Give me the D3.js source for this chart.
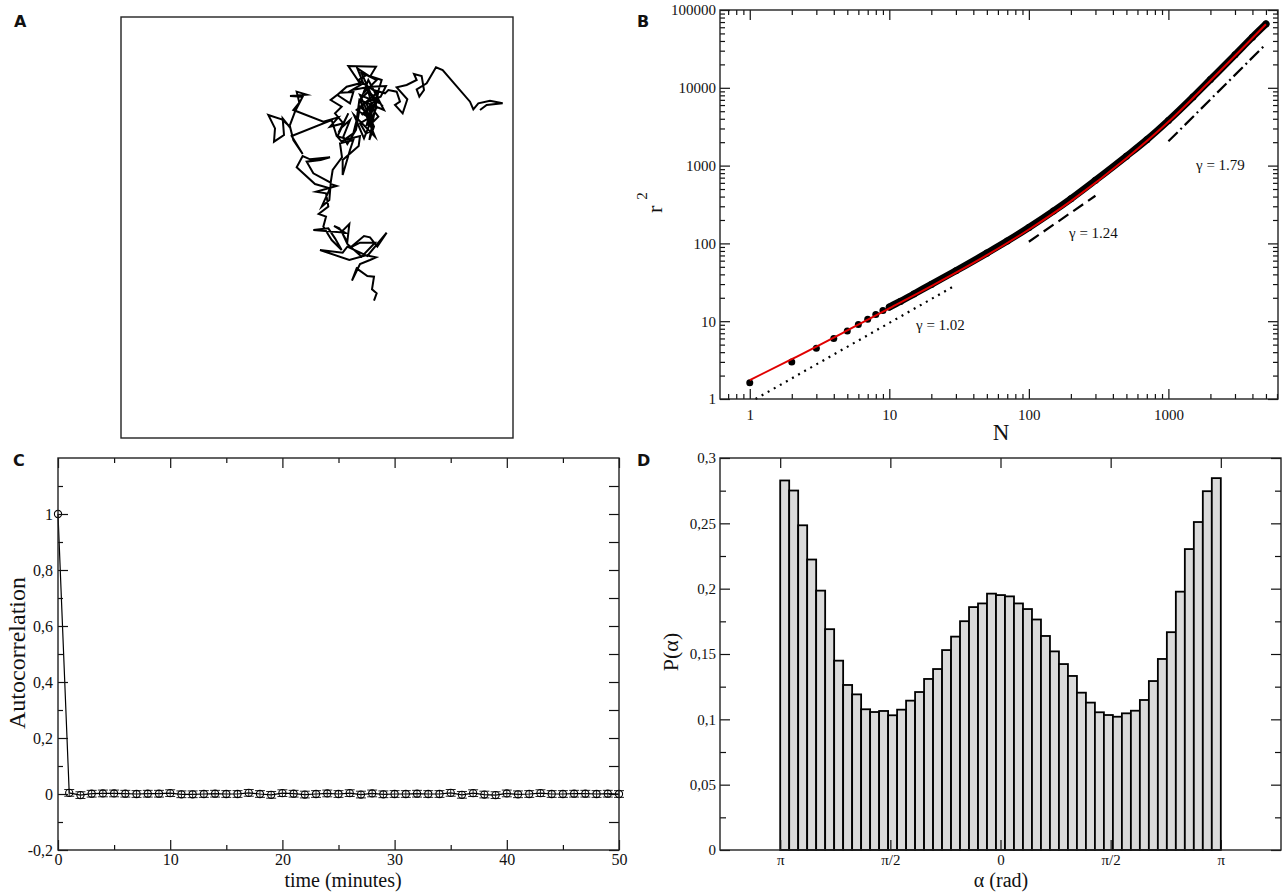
<!DOCTYPE html>
<html>
<head>
<meta charset="utf-8">
<script src="https://cdn.jsdelivr.net/npm/d3@7"></script>
<style>
  body { margin: 0; background: #fff; }
  svg { display: block; }
  text { font-family: "Liberation Serif", "Times New Roman", serif; fill: #111; }
  .letter { font-family: "DejaVu Sans", sans-serif; font-weight: bold; font-size: 16px; }
</style>
</head>
<body>
<svg id="fig" width="1284" height="892"></svg>
<script>
// ---------- Panel A: cell track (image pixel coordinates, y pointing down) ----------
const trackXY = [
  [342,722],[350,700],[336,688],[342,650],[322,648],[290,625],[276,662],[300,612],[330,600],[348,592],
  [318,586],[268,600],[180,570],[248,578],[262,560],[322,588],[380,518],[352,560],[330,532],[312,528],
  [272,562],[300,548],[345,548],[305,590],[262,552],[245,515],[268,492],[262,545],[238,505],[222,498],
  [255,518],[160,510],[205,505],[225,535],[245,570],[215,540],[190,500],[198,470],[176,462],[205,440],
  [198,400],[168,395],[230,378],[212,372],[208,420],[185,440],[210,385],[165,372],[110,322],[128,288],
  [150,298],[210,292],[182,300],[140,305],[160,340],[212,368],[218,330],[246,292],[240,250],[280,240],
  [270,270],[248,345],[248,300],[296,258],[300,228],[262,238],[230,228],[215,180],[95,228],[128,282],
  [100,240],[90,200],[65,178],[25,165],[45,205],[42,245],[72,225],[68,175],[88,200],[105,155],
  [128,110],[90,108],[140,104],[110,95],[118,128],[100,150],[190,185],[235,172],[210,200],[250,190],
  [225,160],[245,140],[212,120],[240,98],[280,96],[270,130],[232,105],[260,80],[300,70],[265,18],
  [348,20],[330,50],[292,25],[310,70],[276,90],[330,80],[378,78],[362,110],[318,128],[336,168],
  [300,190],[318,220],[338,210],[322,160],[300,140],[288,210],[262,252],[250,230],[270,180],[242,205],
  [265,160],[232,230],[245,245],[280,220],[290,180],[298,120],[325,95],[340,150],[355,170],[340,185],
  [320,195],[335,140],[305,165],[345,120],[318,85],[360,130],[300,105],[342,200],[328,240],[355,95],
  [290,150],[330,175],[365,60],[305,40],[350,140],[312,235],[282,165],[345,230],[300,120],[372,150],
  [325,60],[310,100],[350,60],[320,45],[295,60],[340,90],[375,100],[385,90],[410,95],[420,125],
  [405,135],[428,160],[442,118],[410,82],[440,75],[470,60],[462,42],[485,48],[492,90],[478,110],
  [470,88],[500,70],[528,22],[548,30],[630,125],[640,148],[655,130],[690,122],[728,130],[680,135],[660,150]
];

// ---------- Panel B: mean squared displacement vs number of steps ----------
const msdN  = [1, 2, 3, 4, 5, 6, 7, 8, 9, 10, 12, 15, 20, 30, 50, 70, 100, 150, 200, 300, 500, 700, 1000, 1500, 2000, 3000, 4000, 5000];
const msdR2 = [1.62, 3.0, 4.5, 6.0, 7.5, 9.1, 10.6, 12.2, 13.7, 15.2, 17.95, 22.4, 29.7, 44.5, 75, 107, 160, 260, 374, 647, 1320, 2150, 3800, 7630, 12780, 26500, 44800, 66000];
const fitN  = [1, 2, 5, 10, 20, 50, 100, 200, 500, 1000, 2000, 5000];
const fitR2 = [1.75, 3.25, 7.6, 14.6, 28.2, 70.5, 151, 350, 1240, 3650, 12400, 65500];
const slopeGamma  = [1.02, 1.24, 1.79];
const slopeFromN  = [1.1, 100, 1000];
const slopeToN    = [30, 300, 5000];
const slopeFromR2 = [1.0, 105, 2050];
const bXTicks = [1, 10, 100, 1000];
const bXTickLabels = ["1", "10", "100", "1000"];
const bYTicks = [1, 10, 100, 1000, 10000, 100000];
const bYTickLabels = ["1", "10", "100", "1000", "10000", "100000"];

// ---------- Panel C: velocity autocorrelation ----------
const acfValues = [1, 0.004, -0.004, 0.001, 0.002, 0.002, 0.001, 0.000, 0.001, 0.001,
  0.003, -0.001, -0.001, 0.000, 0.001, 0.000, 0.000, 0.004, 0.000, -0.003,
  0.003, 0.001, -0.002, 0.000, 0.002, 0.000, 0.003, -0.002, 0.002, -0.001,
  0.000, 0.000, 0.001, 0.000, 0.000, 0.004, -0.003, 0.003, -0.002, -0.004,
  0.002, -0.001, 0.000, 0.003, 0.000, 0.000, 0.001, 0.001, 0.000, 0.001, 0.000];
const acfErrorHalf = 0.012;
const cXTicks = [0, 10, 20, 30, 40, 50];
const cXTickLabels = ["0", "10", "20", "30", "40", "50"];
const cYTicks = [-0.2, 0, 0.2, 0.4, 0.6, 0.8, 1];
const cYTickLabels = ["-0,2", "0", "0,2", "0,4", "0,6", "0,8", "1"];

// ---------- Panel D: turning-angle distribution (49 bins over [-π, π]) ----------
const pAlpha = [0.2828, 0.2751, 0.2485, 0.2223, 0.1985, 0.169, 0.1449, 0.1263, 0.1191, 0.1077,
  0.1056, 0.1064, 0.1031, 0.1074, 0.1143, 0.1209, 0.1309, 0.1385, 0.153, 0.1633,
  0.1751, 0.1859, 0.1887, 0.1962, 0.1951, 0.1941, 0.1887, 0.1844, 0.1764, 0.1638,
  0.152, 0.1423, 0.1332, 0.1204, 0.1128, 0.1054, 0.1033, 0.102, 0.1046, 0.1066,
  0.1148, 0.1293, 0.1462, 0.1667, 0.1977, 0.2303, 0.251, 0.2746, 0.2846];
const dXTicks = [-Math.PI, -Math.PI / 2, 0, Math.PI / 2, Math.PI];
const dXTickLabels = ["π", "π/2", "0", "π/2", "π"];
const dYTicks = [0, 0.05, 0.1, 0.15, 0.2, 0.25, 0.3];
const dYTickLabels = ["0", "0,05", "0,1", "0,15", "0,2", "0,25", "0,3"];

// ---------- helpers ----------
const svg = d3.select("#fig");
const INK = "#111";

function ticks(g, orient, scale, pos, values, size, labels, pad, fontSize) {
  const make = { left: d3.axisLeft, right: d3.axisRight, top: d3.axisTop, bottom: d3.axisBottom }[orient];
  const gen = make(scale).tickValues(values).tickSize(size).tickPadding(pad || 3)
    .tickFormat(labels ? (d, i) => labels[i] : () => "");
  const sel = g.append("g")
    .attr("transform", (orient === "left" || orient === "right") ? `translate(${pos},0)` : `translate(0,${pos})`)
    .call(gen);
  sel.select(".domain").remove();
  sel.attr("font-family", null).attr("font-size", fontSize || 12).attr("color", INK);
  sel.selectAll("line").attr("stroke-width", 1.2);
  return sel;
}

function frame(g, x0, y0, x1, y1) {
  g.append("rect").attr("x", x0).attr("y", y0).attr("width", x1 - x0).attr("height", y1 - y0)
    .attr("fill", "none").attr("stroke", "#222").attr("stroke-width", 1.4);
}

function letter(x, y, s) {
  svg.append("text").attr("class", "letter").attr("x", x).attr("y", y).text(s);
}

// ================= Panel A =================
{
  const g = svg.append("g");
  const x = d3.scaleLinear().domain([-417, 759]).range([121, 513]);
  const y = d3.scaleLinear().domain([-129, 1134]).range([17, 438]);
  g.append("path").datum(trackXY)
    .attr("d", d3.line().x(d => x(d[0])).y(d => y(d[1])))
    .attr("fill", "none").attr("stroke", "#000").attr("stroke-width", 2)
    .attr("stroke-linejoin", "miter").attr("stroke-miterlimit", 6);
  frame(g, 121, 17, 513, 438);
  letter(14, 27, "A");
}

// ================= Panel B =================
{
  const g = svg.append("g");
  const L = 720, R = 1278, T = 10, B = 399;
  const x = d3.scaleLog().domain([0.612, 6100]).range([L, R]);
  const y = d3.scaleLog().domain([1, 1e5]).range([B, T]);

  const minorX = [];
  [0.1, 1, 10, 100, 1000].forEach(p => { for (let k = 2; k <= 9; k++) { const v = k * p; if (v > 0.62 && v < 6100) minorX.push(v); } });
  const minorY = [];
  [1, 10, 100, 1000, 10000].forEach(p => { for (let k = 2; k <= 9; k++) minorY.push(k * p); });

  // power-law guide lines
  const guideDash = ["2,5", "12,6", "13,4,2,4"];
  slopeGamma.forEach((gam, i) => {
    const r1 = slopeFromR2[i] * Math.pow(slopeToN[i] / slopeFromN[i], gam);
    g.append("line")
      .attr("x1", x(slopeFromN[i])).attr("y1", y(slopeFromR2[i]))
      .attr("x2", x(slopeToN[i])).attr("y2", y(r1))
      .attr("stroke", "#000").attr("stroke-width", 2.2)
      .attr("stroke-dasharray", guideDash[i]);
  });

  // measured points: dense band plus individual markers
  const pts = msdN.map((n, i) => [n, msdR2[i]]);
  g.append("path").datum(pts.filter(d => d[0] >= 10))
    .attr("d", d3.line().x(d => x(d[0])).y(d => y(d[1])).curve(d3.curveMonotoneX))
    .attr("fill", "none").attr("stroke", "#000").attr("stroke-width", 7).attr("stroke-linecap", "round");
  g.selectAll("circle.msd").data(pts).enter().append("circle").attr("class", "msd")
    .attr("cx", d => x(d[0])).attr("cy", d => y(d[1])).attr("r", 3.5).attr("fill", "#000");

  // fitted curve
  g.append("path").datum(fitN.map((n, i) => [n, fitR2[i]]))
    .attr("d", d3.line().x(d => x(d[0])).y(d => y(d[1])).curve(d3.curveMonotoneX))
    .attr("fill", "none").attr("stroke", "#e00000").attr("stroke-width", 2);

  // gamma labels
  const gl = [[916, 330], [1069, 238], [1196, 170]];
  slopeGamma.forEach((gam, i) => {
    g.append("text").attr("x", gl[i][0]).attr("y", gl[i][1]).attr("font-size", 15)
      .text("γ = " + gam.toFixed(2));
  });

  ticks(g, "left", y, L, bYTicks, -10, bYTickLabels, 4, 15);
  ticks(g, "left", y, L, minorY, -5);
  ticks(g, "right", y, R, bYTicks, -10);
  ticks(g, "right", y, R, minorY, -5);
  ticks(g, "bottom", x, B, bXTicks, -10, bXTickLabels, 10, 15);
  ticks(g, "bottom", x, B, minorX, -5);
  ticks(g, "top", x, T, bXTicks, -10);
  ticks(g, "top", x, T, minorX, -5);
  frame(g, L, T, R, B);

  g.append("text").attr("x", 1001).attr("y", 440).attr("text-anchor", "middle").attr("font-size", 23).text("N");
  const yl = g.append("text").attr("transform", "translate(662,213) rotate(-90)").attr("font-size", 22);
  yl.append("tspan").text("r");
  yl.append("tspan").attr("dx", 6).attr("dy", -15).attr("font-size", 15).text("2");
  letter(637, 27, "B");
}

// ================= Panel C =================
{
  const g = svg.append("g");
  const L = 58, R = 619, T = 458, B = 850;
  const x = d3.scaleLinear().domain([0, 50]).range([L, R]);
  const y = d3.scaleLinear().domain([-0.2, 1.2]).range([B, T]);
  const pts = acfValues.map((v, i) => [i, v]);

  g.append("path").datum(pts)
    .attr("d", d3.line().x(d => x(d[0])).y(d => y(d[1])))
    .attr("fill", "none").attr("stroke", "#000").attr("stroke-width", 1.2);

  const bars = g.selectAll("g.eb").data(pts.slice(1)).enter().append("g").attr("class", "eb");
  bars.append("line").attr("x1", d => x(d[0])).attr("x2", d => x(d[0]))
    .attr("y1", d => y(d[1] - acfErrorHalf)).attr("y2", d => y(d[1] + acfErrorHalf));
  bars.append("line").attr("x1", d => x(d[0]) - 5).attr("x2", d => x(d[0]) + 5)
    .attr("y1", d => y(d[1] + acfErrorHalf)).attr("y2", d => y(d[1] + acfErrorHalf));
  bars.append("line").attr("x1", d => x(d[0]) - 5).attr("x2", d => x(d[0]) + 5)
    .attr("y1", d => y(d[1] - acfErrorHalf)).attr("y2", d => y(d[1] - acfErrorHalf));
  bars.selectAll("line").attr("stroke", "#222").attr("stroke-width", 1);

  g.selectAll("circle.acf").data(pts).enter().append("circle").attr("class", "acf")
    .attr("cx", d => x(d[0])).attr("cy", d => y(d[1])).attr("r", 3.6)
    .attr("fill", "none").attr("stroke", "#000").attr("stroke-width", 1.1);

  const minorY = [-0.1, 0.1, 0.3, 0.5, 0.7, 0.9, 1.1];
  const minorX = [5, 15, 25, 35, 45];
  ticks(g, "left", y, L, cYTicks, -10, cYTickLabels, 5, 16);
  ticks(g, "left", y, L, minorY, -5);
  ticks(g, "right", y, R, cYTicks, -10);
  ticks(g, "right", y, R, minorY, -10);
  ticks(g, "bottom", x, B, cXTicks, -10, cXTickLabels, 4, 16);
  ticks(g, "bottom", x, B, minorX, -5);
  ticks(g, "top", x, T, cXTicks, -10);
  ticks(g, "top", x, T, minorX, -5);
  frame(g, L, T, R, B);

  g.append("text").attr("x", 343).attr("y", 887).attr("text-anchor", "middle").attr("font-size", 20).text("time (minutes)");
  g.append("text").attr("transform", "translate(25,653) rotate(-90)").attr("text-anchor", "middle")
    .attr("font-size", 24).text("Autocorrelation");
  letter(13, 466, "C");
}

// ================= Panel D =================
{
  const g = svg.append("g");
  const L = 720, R = 1281, T = 458, B = 850;
  const x = d3.scaleLinear().domain([-4, 4]).range([L, R]);
  const y = d3.scaleLinear().domain([0, 0.3]).range([B, T]);
  const w = 2 * Math.PI / pAlpha.length;

  g.selectAll("rect.bin").data(pAlpha).enter().append("rect").attr("class", "bin")
    .attr("x", (d, i) => x(-Math.PI + i * w))
    .attr("width", (d, i) => x(-Math.PI + (i + 1) * w) - x(-Math.PI + i * w))
    .attr("y", d => y(d)).attr("height", d => y(0) - y(d))
    .attr("fill", "#dadada").attr("stroke", "#000").attr("stroke-width", 1.8);

  const minorY = [0.025, 0.075, 0.125, 0.175, 0.225, 0.275];
  ticks(g, "left", y, L, dYTicks, -10, dYTickLabels, 4, 15);
  ticks(g, "left", y, L, minorY, -6);
  ticks(g, "right", y, R, dYTicks, -10);
  ticks(g, "right", y, R, minorY, -6);
  ticks(g, "bottom", x, B, dXTicks, -10, dXTickLabels, 4, 15);
  ticks(g, "top", x, T, dXTicks, -10);
  frame(g, L, T, R, B);

  g.append("text").attr("x", 1001).attr("y", 887).attr("text-anchor", "middle").attr("font-size", 20).text("α (rad)");
  g.append("text").attr("transform", "translate(678,652) rotate(-90)").attr("text-anchor", "middle")
    .attr("font-size", 22).text("P(α)");
  letter(637, 466, "D");
}
</script>
</body>
</html>
